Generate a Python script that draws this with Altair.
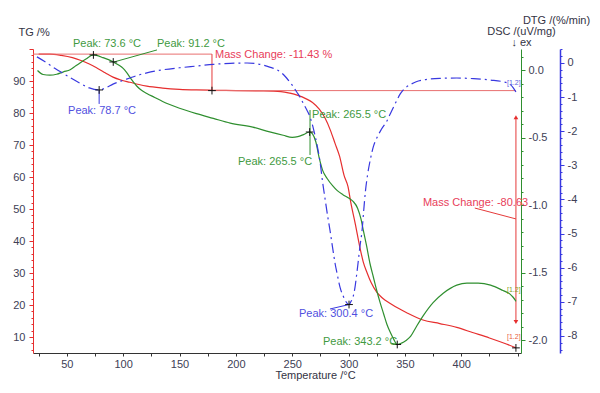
import altair as alt
import pandas as pd

FONT = "Liberation Sans"

# ---------------- curve data ----------------
T_TG = [25, 35, 45, 55, 62, 70, 77, 84, 91, 98, 106, 114, 121, 135, 150, 165, 180, 200, 220,
        240, 248, 255, 262, 268, 274, 279, 284, 288, 292, 296, 299.5, 302, 306, 310, 313,
        316.5, 320, 325, 330, 337, 345, 352, 366, 381, 396, 410, 425, 440, 448.5]
TG = [98.4, 98.4, 98.0, 97.3, 96.5, 95.3, 94.0, 92.6, 91.2, 90.3, 89.6, 88.9, 88.4, 87.8, 87.4,
      87.2, 87.1, 87.0, 86.9, 86.7, 86.2, 85.5, 84.5, 83.3, 81.2, 78.5, 74.5, 70.5, 66.5, 60.5,
      57.0, 52.0, 45.3, 38.1, 33.5, 30.0, 27.0, 24.0, 22.2, 20.5, 18.8, 17.5, 15.3, 14.2, 13.0,
      11.4, 9.7, 7.8, 6.6]

T_DSC = [24, 29, 35, 41, 47, 53, 58, 62, 67, 73.6, 78, 82, 87, 91.2, 96, 100, 103, 106, 109, 112,
         116, 121, 128, 135, 150, 165, 180, 195, 215, 230, 242, 250, 255, 260, 265.5, 268, 271,
         274, 277, 281, 286, 290, 295, 300, 304, 308, 311, 313, 316, 319, 322, 325, 328, 331,
         334, 337, 340, 343.2, 347, 351, 355, 360, 366, 375, 384, 396, 405, 415, 426, 437, 443,
         446, 448.5]
DSC = [0.00, -0.03, -0.035, -0.028, -0.01, 0.005, 0.035, 0.058, 0.085, 0.115, 0.108, 0.095, 0.08,
       0.063, 0.04, 0.015, -0.015, -0.05, -0.085, -0.115, -0.145, -0.17, -0.20, -0.23, -0.28,
       -0.32, -0.355, -0.39, -0.42, -0.455, -0.48, -0.495, -0.49, -0.475, -0.456, -0.47, -0.53,
       -0.65, -0.74, -0.80, -0.855, -0.89, -0.92, -0.945, -0.97, -1.02, -1.10, -1.18, -1.30,
       -1.43, -1.53, -1.63, -1.72, -1.80, -1.88, -1.94, -1.99, -2.03, -2.02, -2.00, -1.97,
       -1.90, -1.82, -1.72, -1.65, -1.59, -1.575, -1.575, -1.59, -1.63, -1.655, -1.68, -1.71]

T_DTG = [23.5, 30, 35, 40, 46, 54, 61.5, 70, 78.7, 85, 91, 98, 106, 113, 121, 128, 135, 150, 165,
         180, 195, 210, 218, 224, 230, 236.5, 241, 245, 250, 254, 257, 259.6, 263, 266, 269, 272,
         274.7, 277, 279, 281.5, 283.5, 286, 288, 290, 292.4, 295.5, 298.6, 300.4, 302, 304,
         305.6, 307, 308.4, 310, 312, 313.5, 315, 317, 319.5, 322, 325, 329, 334, 338, 342, 346,
         350, 355, 360, 366, 381, 396, 411, 426, 437, 443, 446, 448.5]
DTG = [0.18, 0.05, -0.06, -0.17, -0.29, -0.45, -0.59, -0.73, -0.79, -0.72, -0.62, -0.53, -0.44,
       -0.36, -0.29, -0.24, -0.20, -0.14, -0.09, -0.04, -0.01, 0.0, -0.02, -0.06, -0.12, -0.2,
       -0.3, -0.44, -0.65, -0.85, -1.0, -1.17, -1.38, -1.6, -1.95, -2.4, -2.9, -3.5, -3.95, -4.5,
       -4.9, -5.45, -5.87, -6.2, -6.57, -6.85, -7.04, -7.08, -7.0, -6.85, -6.6, -6.25, -5.87,
       -5.4, -4.9, -4.3, -3.75, -3.25, -2.8, -2.45, -2.2, -1.95, -1.7, -1.42, -1.15, -0.9, -0.74,
       -0.63, -0.55, -0.5, -0.45, -0.44, -0.46, -0.5, -0.55, -0.62, -0.72, -0.85]

# ---------------- annotations ----------------
# TG layer
TG_TEXT = ["Mass Change: -11.43 %", "Mass Change: -80.63", "[1.2]"]
TG_TEXT_T = [181.5, 366, 440.6]
TG_TEXT_V = [98.1, 51.9, 10.0]
TG_TEXT_C = ["#e8405a", "#e8405a", "#e86040"]
TG_TEXT_S = [11, 11, 7]
TG_RULE_T = [20, 178.8, 178.8, 448.5, 412]
TG_RULE_T2 = [178.8, 178.8, 448.5, 448.5, 448.5]
TG_RULE_V = [98.4, 98.4, 87.0, 78.7, 50.3]
TG_RULE_V2 = [98.4, 87.0, 87.0, 14.7, 46.9]
TG_RULE_C = ["#e87070", "#e53a3a", "#e87070", "#e53a3a", "#e53a3a"]
TG_MARK_T = [178.8, 448.5]
TG_MARK_V = [87.0, 6.6]
ARROW_T = [448.5, 448.5]
ARROW_V = [78.7, 14.7]
ARROW_SHAPE = ["triangle-up", "triangle-down"]

# DSC layer
DSC_TEXT = ["Peak: 73.6 °C", "Peak: 91.2 °C", "Peak: 265.5 °C", "Peak: 265.5 °C",
            "Peak: 343.2 °C", "[1.2]"]
DSC_TEXT_T = [55.5, 130, 267.6, 201.9, 277.3, 440.6]
DSC_TEXT_V = [0.196, 0.196, -0.33, -0.678, -2.011, -1.626]
DSC_TEXT_C = ["#3f9a3f", "#3f9a3f", "#3f9a3f", "#3f9a3f", "#3f9a3f", "#8aa020"]
DSC_TEXT_S = [11, 11, 11, 11, 11, 7]
DSC_RULE_T = [91.9, 265.8, 337.5]
DSC_RULE_T2 = [130, 265.8, 343.2]
DSC_RULE_V = [0.063, -0.293, -2.02]
DSC_RULE_V2 = [0.152, -0.626, -2.03]
DSC_MARK_T = [73.6, 91.2, 265.5, 343.2]
DSC_MARK_V = [0.115, 0.063, -0.456, -2.03]

# DTG layer
DTG_TEXT = ["Peak: 78.7 °C", "Peak: 300.4 °C", "[1.2]"]
DTG_TEXT_T = [51.1, 256, 440.6]
DTG_TEXT_V = [-1.408, -7.36, -0.587]
DTG_TEXT_C = ["#5050e0", "#5050e0", "#6060e0"]
DTG_TEXT_S = [11, 11, 7]
DTG_RULE_T = [78.7, 283.5]
DTG_RULE_T2 = [78.7, 300.4]
DTG_RULE_V = [-0.79, -7.21]
DTG_RULE_V2 = [-1.20, -7.08]
DTG_MARK_T = [78.7, 300.4]
DTG_MARK_V = [-0.79, -7.08]

# ---------------- scales & axes ----------------
RED, GREEN, BLUE = "#e62e2e", "#2f8f2f", "#3838e0"
LBL = "#404055"

x_scale = alt.Scale(domain=[20, 453], nice=False, zero=False)
x_axis = alt.Axis(
    values=list(range(25, 451, 25)),
    labelExpr="datum.value % 50 == 0 && datum.value < 450 ? datum.value : ''",
    tickSize=3, domainColor="#333333", tickColor="#333333", labelColor=LBL,
    labelFontSize=11, labelPadding=2, labelFlush=False, labelOverlap=False, grid=False,
    title="Temperature /°C", titleX=282, titleY=22, titleAlign="center",
    titleBaseline="middle", titleFontWeight="normal", titleFontSize=11, titleColor="#333344",
)

tg_scale = alt.Scale(domain=[5, 100], nice=False, zero=False)
tg_axis = alt.Axis(
    orient="left", values=list(range(6, 101, 2)),
    labelExpr="datum.value % 10 == 0 && datum.value < 100 ? datum.value : ''",
    tickSize={"condition": {"test": "datum.value % 10 == 0", "value": 4}, "value": 2},
    domainColor=RED, tickColor=RED, labelColor=LBL, labelFontSize=11, labelPadding=4,
    labelOverlap=False, grid=False,
    title="TG /%", titleAngle=0, titleX=-15, titleY=-17, titleAlign="left",
    titleBaseline="middle", titleFontWeight="normal", titleFontSize=11, titleColor="#333344",
)

dsc_scale = alt.Scale(domain=[-2.093, 0.159], nice=False, zero=False)
dsc_axis = alt.Axis(
    orient="right", values=[round(-2.0 + 0.1 * i, 1) for i in range(22)],
    labelExpr="abs(round(datum.value*10)) % 5 == 0 ? (datum.value < -0.001 ? '-' : '') + format(abs(datum.value), '.1f') : ''",
    tickSize={"condition": {"test": "abs(round(datum.value*10)) % 5 == 0", "value": 4}, "value": 2},
    domainColor=GREEN, tickColor=GREEN, labelColor=LBL, labelFontSize=11, labelPadding=3,
    labelOverlap=False, grid=False,
    title=["DSC /(uV/mg)", "↓ ex" + "\u00a0" * 6], titleAngle=0, titleX=0, titleY=-24,
    titleAlign="center", titleBaseline="top", titleLineHeight=11,
    titleFontWeight="normal", titleFontSize=11, titleColor="#333344",
)

dtg_scale = alt.Scale(domain=[-8.5, 0.41], nice=False, zero=False)
dtg_axis = alt.Axis(
    orient="right", offset=39, values=[round(-8.4 + 0.2 * i, 1) for i in range(45)],
    labelExpr="abs(datum.value - round(datum.value)) < 0.01 ? (datum.value < -0.01 ? '-' : '') + format(abs(datum.value), 'd') : ''",
    tickSize={"condition": {"test": "abs(datum.value - round(datum.value)) < 0.01", "value": 4}, "value": 2},
    domainColor=BLUE, domainWidth=1.5, tickColor=BLUE, labelColor=LBL, labelFontSize=11,
    labelPadding=3, labelOverlap=False, grid=False,
    title="DTG /(%/min)", titleAngle=0, titleX=-4, titleY=-29, titleAlign="center",
    titleBaseline="middle", titleFontWeight="normal", titleFontSize=11, titleColor="#333344",
)

CROSS = "M-1,0L1,0M0,-1L0,1"


def X():
    return alt.X("T:Q", scale=x_scale, axis=x_axis)


def build_layer(tc, vc, scale, axis, color, dash, texts, rules, marks, extra=None):
    Y = lambda: alt.Y("v:Q", scale=scale, axis=axis)
    curve = pd.DataFrame({"T": tc, "v": vc})
    line_kw = dict(color=color, strokeWidth=1.2, interpolate="monotone")
    if dash:
        line_kw["strokeDash"] = dash
    layers = [alt.Chart(curve).mark_line(**line_kw).encode(x=X(), y=Y())]
    rdf = pd.DataFrame(rules)
    layers.append(alt.Chart(rdf).mark_rule(strokeWidth=1).encode(
        x=X(), x2="T2:Q", y=Y(), y2="v2:Q", color=alt.Color("c:N", scale=None)))
    mdf = pd.DataFrame(marks)
    layers.append(alt.Chart(mdf).mark_point(shape=CROSS, filled=False, size=60, color="#111111",
                                            strokeWidth=1, opacity=1).encode(x=X(), y=Y()))
    tdf = pd.DataFrame(texts)
    layers.append(alt.Chart(tdf).mark_text(align="left", baseline="middle", font=FONT).encode(
        x=X(), y=Y(), text="label:N", color=alt.Color("c:N", scale=None),
        size=alt.Size("s:Q", scale=None)))
    if extra is not None:
        layers.append(alt.Chart(pd.DataFrame(extra)).mark_point(filled=True, size=22, color=RED,
                                                                opacity=1).encode(
            x=X(), y=Y(), shape=alt.Shape("shape:N", scale=None)))
    return alt.layer(*layers)


tg_layer = build_layer(
    T_TG, TG, tg_scale, tg_axis, RED, None,
    {"T": TG_TEXT_T, "v": TG_TEXT_V, "label": TG_TEXT, "c": TG_TEXT_C, "s": TG_TEXT_S},
    {"T": TG_RULE_T, "T2": TG_RULE_T2, "v": TG_RULE_V, "v2": TG_RULE_V2, "c": TG_RULE_C},
    {"T": TG_MARK_T, "v": TG_MARK_V},
    extra={"T": ARROW_T, "v": ARROW_V, "shape": ARROW_SHAPE},
)
dsc_layer = build_layer(
    T_DSC, DSC, dsc_scale, dsc_axis, GREEN, None,
    {"T": DSC_TEXT_T, "v": DSC_TEXT_V, "label": DSC_TEXT, "c": DSC_TEXT_C, "s": DSC_TEXT_S},
    {"T": DSC_RULE_T, "T2": DSC_RULE_T2, "v": DSC_RULE_V, "v2": DSC_RULE_V2,
     "c": [GREEN] * len(DSC_RULE_T)},
    {"T": DSC_MARK_T, "v": DSC_MARK_V},
)
dtg_layer = build_layer(
    T_DTG, DTG, dtg_scale, dtg_axis, BLUE, [10, 4, 2, 4],
    {"T": DTG_TEXT_T, "v": DTG_TEXT_V, "label": DTG_TEXT, "c": DTG_TEXT_C, "s": DTG_TEXT_S},
    {"T": DTG_RULE_T, "T2": DTG_RULE_T2, "v": DTG_RULE_V, "v2": DTG_RULE_V2,
     "c": [BLUE] * len(DTG_RULE_T)},
    {"T": DTG_MARK_T, "v": DTG_MARK_V},
)

chart = alt.layer(tg_layer, dsc_layer, dtg_layer).resolve_scale(y="independent").properties(
    width=488, height=304,
    autosize=alt.AutoSizeParams(type="none"),
    padding={"left": 25, "top": 41, "right": 71, "bottom": 32},
    background="white",
).configure_view(stroke=None).configure_axis(labelFont=FONT, titleFont=FONT).configure_text(font=FONT)

chart.save("out.html", embed_options={"renderer": "svg", "actions": False})
